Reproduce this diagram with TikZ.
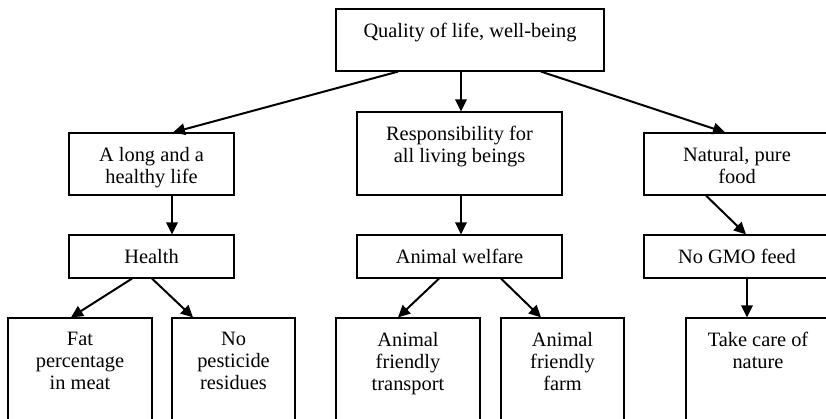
\documentclass[tikz,border=0pt]{standalone}
\usepackage{fontspec}
\setmainfont{Liberation Serif}
\usetikzlibrary{arrows.meta}
\begin{document}
\begin{tikzpicture}[
        x=1pt, y=-1pt,
        box/.style={rectangle, draw, line width=1.2pt, inner sep=0pt},
        txt/.style={anchor=north, align=center, inner xsep=0pt, inner ysep=15pt, font=\fontsize{20.4}{22}\selectfont},
        arr/.style={-{Triangle[length=12pt,width=11.5pt]}, line width=2pt}
    ]
    \useasboundingbox (0,0) rectangle (826,419);
    \clip (0,0) rectangle (826,419);
    % top
    \node[box, minimum width=268, minimum height=62] (qol) at (470,40) {};
    \node[txt] (qolt) at (qol.north) {Quality of life, well-being};
    % second row
    \node[box, minimum width=165, minimum height=62] (long) at (151.5,164) {};
    \node[txt] (longt) at (long.north) {A long and a\\healthy life};
    \node[box, minimum width=205, minimum height=83] (resp) at (459.5,153.5) {};
    \node[txt] (respt) at (resp.north) {Responsibility for\\all living beings};
    \node[box, minimum width=186, minimum height=62] (natural) at (737,164) {};
    \node[txt] (naturalt) at (natural.north) {Natural, pure\\food};
    % third row
    \node[box, minimum width=165, minimum height=43] (health) at (151.5,256.5) {};
    \node[txt] (healtht) at (health.north) {Health};
    \node[box, minimum width=205, minimum height=43] (welfare) at (459.5,256.5) {};
    \node[txt] (welfaret) at (welfare.north) {Animal welfare};
    \node[box, minimum width=186, minimum height=43] (gmo) at (737,256.5) {};
    \node[txt] (gmot) at (gmo.north) {No GMO feed};
    % bottom row, cut off by the page
    \node[box, minimum width=144, minimum height=130] (fat) at (80,383) {};
    \node[txt] (fatt) at (fat.north) {Fat\\percentage\\in meat};
    \node[box, minimum width=123, minimum height=130] (pest) at (233.5,383) {};
    \node[txt] (pestt) at (pest.north) {No\\pesticide\\residues};
    \node[box, minimum width=144, minimum height=130] (transport) at (408,383) {};
    \node[txt] (transportt) at (transport.north) {Animal\\friendly\\transport};
    \node[box, minimum width=123, minimum height=130] (farm) at (562.5,383) {};
    \node[txt] (farmt) at (farm.north) {Animal\\friendly\\farm};
    \node[box, minimum width=144, minimum height=130] (nature) at (758,383) {};
    \node[txt] (naturet) at (nature.north) {Take care of\\nature};
    % arrows
    \draw[arr] ([xshift=-72]qol.south) -- ([xshift=21.5]long.north);
    \draw[arr] ([xshift=-9]qol.south) -- ([xshift=1.5]resp.north);
    \draw[arr] ([xshift=71]qol.south) -- ([xshift=-12]natural.north);
    \draw[arr] ([xshift=20.5]long.south) -- ([xshift=20.5]health.north);
    \draw[arr] ([xshift=1.5]resp.south) -- ([xshift=1.5]welfare.north);
    \draw[arr] ([xshift=-31]natural.south) -- ([xshift=9]gmo.north);
    \draw[arr] ([xshift=-19.5]health.south) -- ([xshift=-9]fat.north);
    \draw[arr] ([xshift=0.5]health.south) -- ([xshift=-40.5]pest.north);
    \draw[arr] ([xshift=-20.5]welfare.south) -- ([xshift=-10]transport.north);
    \draw[arr] ([xshift=41.5]welfare.south) -- ([xshift=-21.5]farm.north);
    \draw[arr] ([xshift=10]gmo.south) -- ([xshift=-11]nature.north);
\end{tikzpicture}
\end{document}
